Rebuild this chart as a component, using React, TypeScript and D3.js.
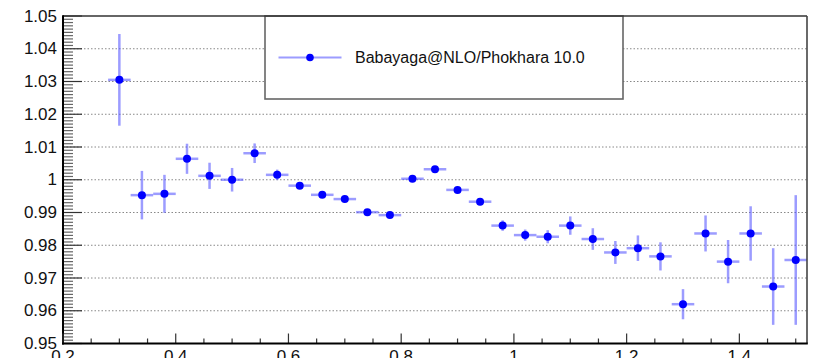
import React from "react";
import * as d3 from "d3";

const xCenters = [0.30, 0.34, 0.38, 0.42, 0.46, 0.50, 0.54, 0.58, 0.62, 0.66, 0.70, 0.74, 0.78, 0.82, 0.86, 0.90, 0.94, 0.98, 1.02, 1.06, 1.10, 1.14, 1.18, 1.22, 1.26, 1.30, 1.34, 1.38, 1.42, 1.46, 1.50];
const ratios = [1.0305, 0.9953, 0.9957, 1.0064, 1.0012, 1.0000, 1.0081, 1.0015, 0.9982, 0.9954, 0.9941, 0.9901, 0.9892, 1.0003, 1.0032, 0.9969, 0.9933, 0.9860, 0.9831, 0.9826, 0.9860, 0.9819, 0.9778, 0.9791, 0.9766, 0.9620, 0.9836, 0.9750, 0.9836, 0.9674, 0.9755];
const errors = [0.0140, 0.0074, 0.0058, 0.0046, 0.0040, 0.0036, 0.0030, 0.0016, 0.0010, 0.0008, 0.0008, 0.0008, 0.0008, 0.0008, 0.0008, 0.0009, 0.0011, 0.0016, 0.0017, 0.0020, 0.0028, 0.0033, 0.0035, 0.0039, 0.0043, 0.0046, 0.0055, 0.0066, 0.0083, 0.0117, 0.0198];
const binHalfWidth = 0.02;
const xMajorTicks = [0.2, 0.4, 0.6, 0.8, 1.0, 1.2, 1.4];
const xTickLabels = ["0.2", "0.4", "0.6", "0.8", "1", "1.2", "1.4"];
const yMajorTicks = [0.95, 0.96, 0.97, 0.98, 0.99, 1.0, 1.01, 1.02, 1.03, 1.04, 1.05];
const yTickLabels = ["0.95", "0.96", "0.97", "0.98", "0.99", "1", "1.01", "1.02", "1.03", "1.04", "1.05"];
const legendLabel = "Babayaga@NLO/Phokhara 10.0";

const W = 817, H = 358;
const L = 63, R = 807, T = 16, B = 343.5;
const FONT = "'Liberation Sans', Arial, Helvetica, sans-serif";
const MARK = "#0000ff";
const ERR = "rgba(90,90,255,0.6)";

export default function App() {
  const x = d3.scaleLinear().domain([0.2, 1.52]).range([L, R]);
  const y = d3.scaleLinear().domain([0.95, 1.05]).range([B, T]);
  const yMinor = d3.range(0, 101).map((i) => 0.95 + i * 0.001);
  const xMinor = d3.range(0, 27).map((i) => 0.2 + i * 0.05).filter((v) => v <= 1.52);

  return (
    <svg width={W} height={H} style={{ position: "absolute", left: 0, top: 0, background: "#fff" }}>
      {/* grid */}
      {yMajorTicks.slice(1, -1).map((v, i) => (
        <line key={"g" + i} x1={L} x2={R} y1={y(v)} y2={y(v)} stroke="#888" strokeWidth={1} strokeDasharray="1.5,2" />
      ))}
      {/* legend box */}
      <rect x={265} y={T} width={358} height={83} fill="#fff" stroke="#666" strokeWidth={1.6} />
      <line x1={278.5} x2={341.5} y1={57.5} y2={57.5} stroke={ERR} strokeWidth={2} />
      <circle cx={310} cy={57.5} r={3.8} fill={MARK} />
      <text x={355} y={57.5} dominantBaseline="central" fontFamily={FONT} fontSize={16} fill="#111">{legendLabel}</text>
      {/* error bars */}
      {xCenters.map((c, i) => (
        <g key={"e" + i}>
          <line x1={x(c - binHalfWidth)} x2={x(c + binHalfWidth)} y1={y(ratios[i])} y2={y(ratios[i])} stroke={ERR} strokeWidth={2.5} />
          <line x1={x(c)} x2={x(c)} y1={y(ratios[i] - errors[i])} y2={y(ratios[i] + errors[i])} stroke={ERR} strokeWidth={2.5} />
        </g>
      ))}
      {xCenters.map((c, i) => (
        <circle key={"m" + i} cx={x(c)} cy={y(ratios[i])} r={4} fill={MARK} />
      ))}
      {/* frame */}
      <line x1={L} x2={R} y1={T} y2={T} stroke="#333" strokeWidth={1.5} />
      <line x1={R} x2={R} y1={T} y2={B} stroke="#444" strokeWidth={1.6} />
      {/* y axis */}
      {yMinor.map((v, i) => {
        const major = i % 10 === 0;
        return <line key={"ym" + i} x1={L} x2={L + (major ? 19 : 10)} y1={y(v)} y2={y(v)} stroke={major ? "#333" : "#666"} strokeWidth={1.2} />;
      })}
      <line x1={L} x2={L} y1={T - 0.7} y2={B + 1} stroke="#000" strokeWidth={2} />
      {yMajorTicks.map((v, i) => (
        <text key={"yl" + i} x={57} y={y(v)} textAnchor="end" dominantBaseline="central" fontFamily={FONT} fontSize={17} fill="#111">{yTickLabels[i]}</text>
      ))}
      {/* x axis */}
      {xMinor.map((v, i) => {
        const major = i % 4 === 0;
        return <line key={"xm" + i} x1={x(v)} x2={x(v)} y1={B} y2={B - (major ? 10 : 5)} stroke="#333" strokeWidth={1.2} />;
      })}
      <line x1={L - 1} x2={R + 0.8} y1={B} y2={B} stroke="#000" strokeWidth={2} />
      {xMajorTicks.map((v, i) => (
        <text key={"xl" + i} x={x(v)} y={361.5} textAnchor="middle" fontFamily={FONT} fontSize={17} fill="#111">{xTickLabels[i]}</text>
      ))}
    </svg>
  );
}
